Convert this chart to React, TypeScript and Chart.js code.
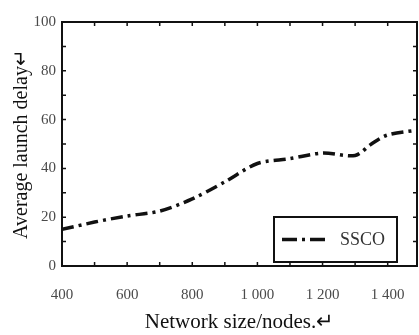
import React, { useEffect, useRef } from "react";
import { Chart, registerables } from "chart.js";

Chart.register(...registerables);

const networkSizes = [400, 500, 600, 700, 800, 900, 1000, 1100, 1200, 1300, 1350, 1400, 1490];
const ssocDelay = [15, 18, 20.5, 22.5, 27.5, 34.5, 42, 44, 46.3, 45.3, 50, 53.7, 55.7];
const seriesLabel = "SSCO";
const xLabelValues = [400, 600, 800, 1000, 1200, 1400];
const yLabelValues = [0, 20, 40, 60, 80, 100];
const xTitle = "Network size/nodes.\u21B5";
const yTitle = "Average launch delay\u21B5";

const FONT = "'Liberation Serif', 'Times New Roman', serif";
const DASH = [12, 5, 3, 5];

const fmtThousands = (v: number) =>
  v >= 1000 ? `${Math.floor(v / 1000)} ${String(v % 1000).padStart(3, "0")}` : String(v);

const framePlugin = {
  id: "frame",
  afterDraw(chart: any) {
    const { ctx, chartArea } = chart;
    const { left, right, top, bottom } = chartArea;
    const xs = chart.scales.x;
    const ys = chart.scales.y;
    ctx.save();
    ctx.strokeStyle = "#111";
    ctx.lineWidth = 2;
    ctx.setLineDash([]);
    ctx.strokeRect(left, top, right - left, bottom - top);
    ctx.lineWidth = 1.5;
    const tl = 4;
    for (let v = xs.min; v <= xs.max; v += 100) {
      const px = xs.getPixelForValue(v);
      ctx.beginPath();
      ctx.moveTo(px, bottom);
      ctx.lineTo(px, bottom - tl);
      ctx.moveTo(px, top);
      ctx.lineTo(px, top + tl);
      ctx.stroke();
    }
    for (let v = ys.min; v <= ys.max; v += 10) {
      const py = ys.getPixelForValue(v);
      ctx.beginPath();
      ctx.moveTo(left, py);
      ctx.lineTo(left + tl, py);
      ctx.moveTo(right, py);
      ctx.lineTo(right - tl, py);
      ctx.stroke();
    }
    // legend box
    const bx = right - 143;
    const by = bottom - 49;
    const bw = 123;
    const bh = 45;
    ctx.fillStyle = "#fff";
    ctx.fillRect(bx, by, bw, bh);
    ctx.lineWidth = 2;
    ctx.strokeRect(bx, by, bw, bh);
    const ds = chart.data.datasets[0];
    const ly = by + bh / 2;
    ctx.lineWidth = 3.5;
    ctx.setLineDash([15, 5, 3, 5]);
    ctx.beginPath();
    ctx.moveTo(bx + 8, ly);
    ctx.lineTo(bx + 51, ly);
    ctx.stroke();
    ctx.setLineDash([]);
    ctx.fillStyle = "#333";
    ctx.font = `18px ${FONT}`;
    ctx.textBaseline = "middle";
    ctx.textAlign = "left";
    ctx.fillText(ds.label, bx + 66, ly + 1);
    ctx.restore();
  },
};

export default function App() {
  const ref = useRef<HTMLCanvasElement>(null);
  useEffect(() => {
    if (!ref.current) return;
    const chart = new Chart(ref.current, {
      type: "line",
      data: {
        datasets: [
          {
            label: seriesLabel,
            data: networkSizes.map((x, i) => ({ x, y: ssocDelay[i] })),
            borderColor: "#111",
            borderWidth: 3.5,
            borderDash: DASH,
            pointRadius: 0,
            tension: 0.3,
            fill: false,
          },
        ],
      },
      options: {
        responsive: false,
        animation: false,
        layout: { padding: { left: 0, top: 22, right: 2, bottom: 0 } },
        plugins: { legend: { display: false }, tooltip: { enabled: false } },
        scales: {
          x: {
            type: "linear",
            min: 400,
            max: 1490,
            afterFit: (s: any) => {
              s.height = 69;
              s.paddingLeft = 0;
              s.paddingRight = 0;
            },
            afterBuildTicks: (s: any) => {
              s.ticks = xLabelValues.map((v) => ({ value: v }));
            },
            border: { display: false },
            grid: { display: false, drawTicks: false },
            ticks: {
              padding: 20,
              color: "#4a4a4a",
              font: { family: FONT, size: 15 },
              maxRotation: 0,
              autoSkip: false,
              callback: (v: any) => fmtThousands(Number(v)),
            },
            title: {
              display: true,
              text: xTitle,
              color: "#111",
              font: { family: FONT, size: 21 },
              padding: { top: 0, bottom: 0 },
            },
          },
          y: {
            min: 0,
            max: 100,
            afterFit: (s: any) => {
              s.width = 62;
              s.paddingTop = 0;
              s.paddingBottom = 0;
            },
            afterBuildTicks: (s: any) => {
              s.ticks = yLabelValues.map((v) => ({ value: v }));
            },
            border: { display: false },
            grid: { display: false, drawTicks: false },
            ticks: {
              padding: 6,
              color: "#4a4a4a",
              font: { family: FONT, size: 15 },
            },
            title: {
              display: true,
              text: yTitle,
              color: "#111",
              font: { family: FONT, size: 20 },
              padding: { top: 10, bottom: 0 },
            },
          },
        },
      },
      plugins: [framePlugin],
    });
    return () => chart.destroy();
  }, []);
  return (
    <div style={{ position: "absolute", left: 0, top: 0, width: 419, height: 335, background: "#fff" }}>
      <canvas ref={ref} width={419} height={335} />
    </div>
  );
}
